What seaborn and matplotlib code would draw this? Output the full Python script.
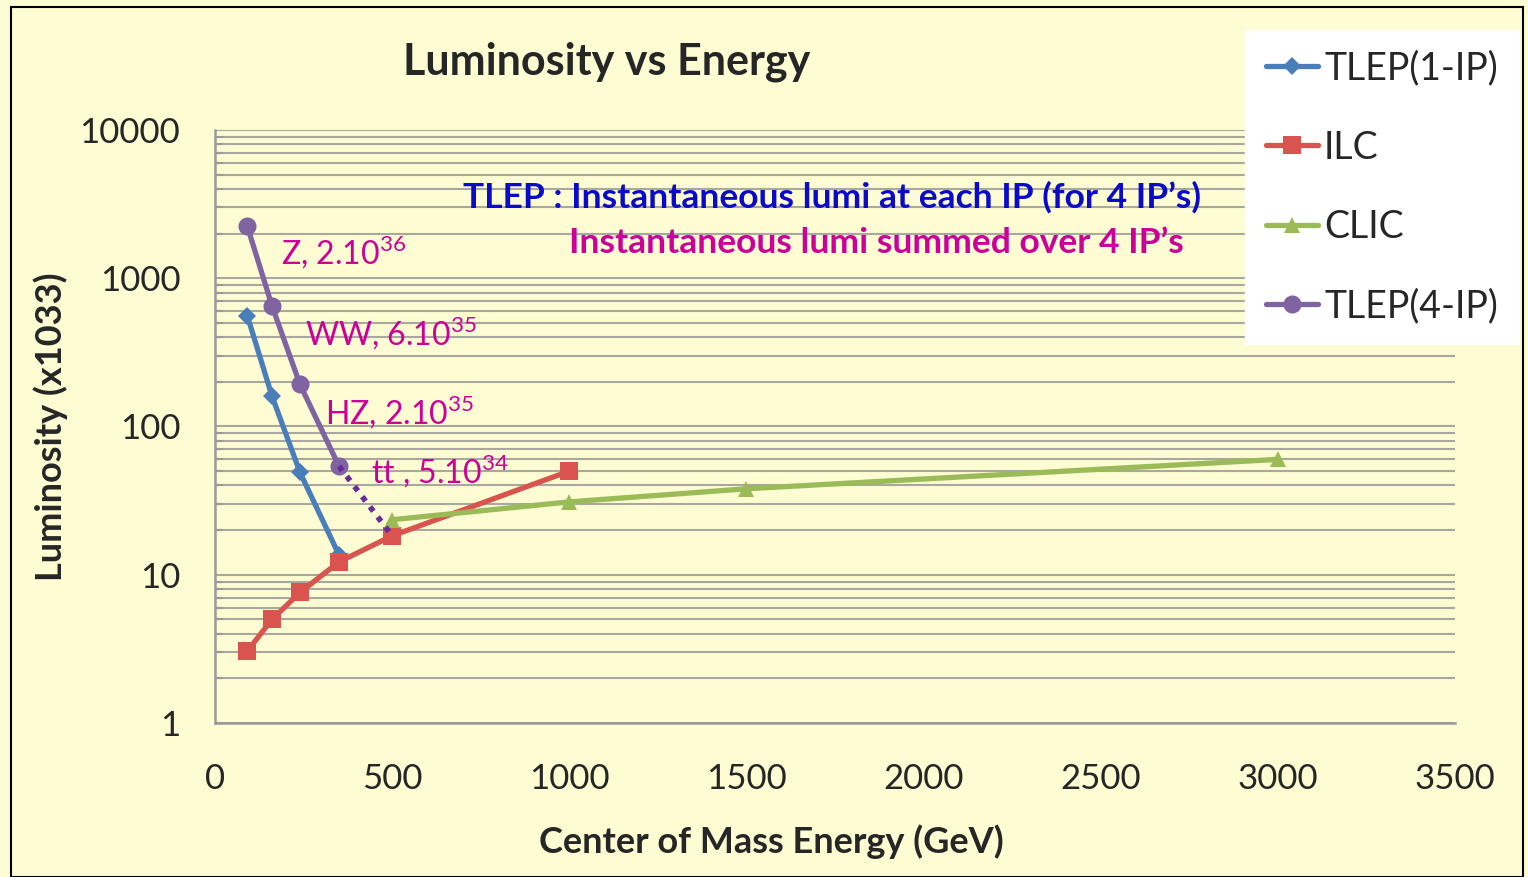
import pandas as pd
import seaborn as sns
import matplotlib.pyplot as plt
from matplotlib.patches import Rectangle

# === Data ===
tlep1_x = [91, 161, 240, 350]
tlep1_y = [560, 160, 49, 13.6]
ilc_x = [91, 161, 240, 350, 500, 1000]
ilc_y = [3.05, 5.0, 7.6, 12.2, 18.3, 50]
clic_x = [500, 1000, 1500, 3000]
clic_y = [23.5, 31, 38, 60]
tlep4_x = [91, 161, 240, 350]
tlep4_y = [2250, 650, 192, 54]
labels = ["Z, 2.10$^{\\mathregular{36}}$", "WW, 6.10$^{\\mathregular{35}}$",
          "HZ, 2.10$^{\\mathregular{35}}$", "tt , 5.10$^{\\mathregular{34}}$"]

series = ["TLEP(1-IP)", "ILC", "CLIC", "TLEP(4-IP)"]
df = pd.concat([
    pd.DataFrame({"E": tlep1_x, "L": tlep1_y, "s": series[0]}),
    pd.DataFrame({"E": ilc_x, "L": ilc_y, "s": series[1]}),
    pd.DataFrame({"E": clic_x, "L": clic_y, "s": series[2]}),
    pd.DataFrame({"E": tlep4_x, "L": tlep4_y, "s": series[3]}),
])

colors = {"TLEP(1-IP)": "#4A7EBB", "ILC": "#D9534F", "CLIC": "#9BBB59", "TLEP(4-IP)": "#8064A2"}
markers = {"TLEP(1-IP)": "D", "ILC": "s", "CLIC": "^", "TLEP(4-IP)": "o"}
msize = {"TLEP(1-IP)": 9, "ILC": 13, "CLIC": 12, "TLEP(4-IP)": 13}

sns.set_style("white")
plt.rcParams['font.family'] = ['Lato', 'DejaVu Sans']
bg = "#FDFCD2"

fig = plt.figure(figsize=(15.28, 8.77), dpi=100, facecolor=bg)
ax = fig.add_axes([0.1407, 0.1756, 0.8115, 0.6762])
ax.set_facecolor(bg)

for s in series:
    sns.lineplot(data=df[df["s"] == s], x="E", y="L", ax=ax, color=colors[s],
                 marker=markers[s], markersize=msize[s], markeredgewidth=0,
                 linewidth=3.8, label=s, legend=False)

# dotted connection TLEP(4-IP) -> ILC at 500 GeV
ax.plot([tlep4_x[-1], ilc_x[4]], [tlep4_y[-1], ilc_y[4]], color="#6A2A9A",
        linestyle=(0, (1, 1.3)), linewidth=4)

ax.set_yscale("log")
ax.set_ylim(1, 10000)
ax.set_xlim(0, 3500)
ax.set_xticks(range(0, 3501, 500))
ax.set_yticks([1, 10, 100, 1000, 10000])
ax.set_yticklabels(["1", "10", "100", "1000", "10000"])

ax.grid(True, which="both", axis="y", color="#A8A8A0", linewidth=1.5)
ax.grid(False, axis="x")
for sp in ["top", "right"]:
    ax.spines[sp].set_visible(False)
for sp in ["left", "bottom"]:
    ax.spines[sp].set_color("#9A9A9A")
    ax.spines[sp].set_linewidth(1.8)
ax.tick_params(axis="both", which="major", direction="out", length=11, width=1.8,
               color="#9A9A9A", labelsize=25, pad=14)
ax.tick_params(axis="x", which="major", pad=18)
ax.tick_params(axis="y", which="minor", direction="in", length=6, width=1.5, color="#9A9A9A", left=True)

ax.set_xlabel("Center of Mass Energy (GeV)", fontsize=26, fontweight="bold")
ax.xaxis.set_label_coords(0.449, -0.171)
ax.set_ylabel("Luminosity (x1033)", fontsize=26, fontweight="bold")
ax.yaxis.set_label_coords(-0.1185, 0.5)
fig.text(0.397, 0.93, "Luminosity vs Energy", fontsize=31, fontweight="bold", ha="center", va="center")

# annotations
mag = "#CC0099"
pos = [(185, 1500), (254, 425), (310, 124), (440, 50)]
for (px, py), t in zip(pos, labels):
    ax.text(px, py, t, color=mag, fontsize=23, ha="left", va="center")
ax.text(0.2, 0.887, "TLEP : Instantaneous lumi at each IP (for 4 IP\u2019s)", transform=ax.transAxes,
        color="#0A0ACC", fontsize=25.5, fontweight="bold", ha="left", va="center")
ax.text(0.2855, 0.809, "Instantaneous lumi summed over 4 IP\u2019s", transform=ax.transAxes,
        color=mag, fontsize=25.5, fontweight="bold", ha="left", va="center")

handles, lbls = ax.get_legend_handles_labels()
leg = fig.legend(handles, lbls, loc="upper left", bbox_to_anchor=(0.815, 0.966), fontsize=27,
                 frameon=True, fancybox=False, framealpha=1, edgecolor="white",
                 handlelength=1.4, handletextpad=0.15, labelspacing=1.15, borderpad=0.55,
                 borderaxespad=0)

fig.patches.append(Rectangle((0.007, 0.0), 0.99, 0.992, transform=fig.transFigure,
                             fill=False, edgecolor="black", linewidth=1.5))

plt.savefig("out.png", dpi=100, facecolor=bg)
plt.close()
